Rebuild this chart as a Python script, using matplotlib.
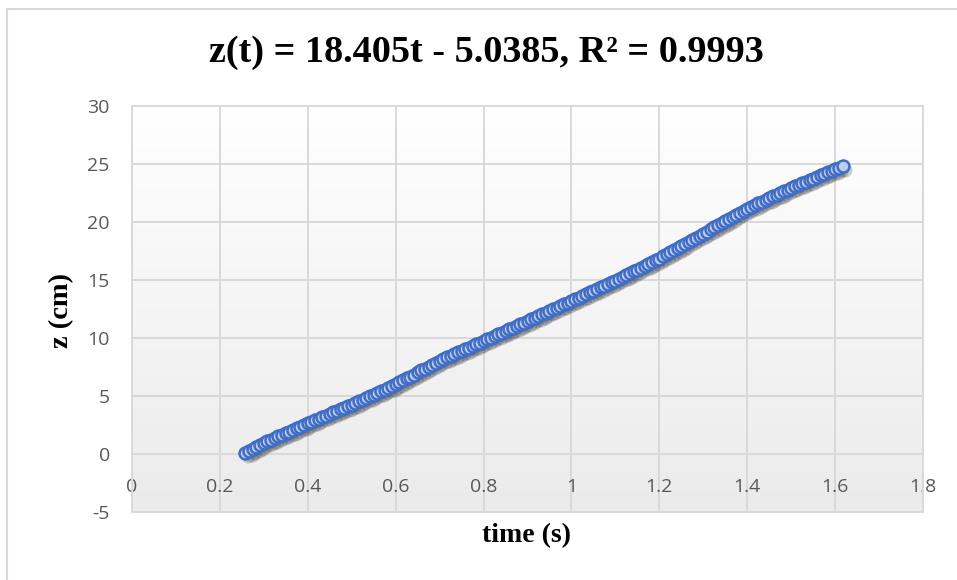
import matplotlib
matplotlib.use("Agg")
import matplotlib.pyplot as plt
import matplotlib.transforms as mtransforms
from matplotlib.colors import LinearSegmentedColormap
from matplotlib.patches import Rectangle
import numpy as np

# ---------------- data ----------------
time_s = [
    0.258, 0.267, 0.275, 0.283, 0.292, 0.300,
    0.308, 0.317, 0.325, 0.333, 0.342, 0.350, 0.358, 0.367, 0.375, 0.383, 0.392, 0.400,
    0.408, 0.417, 0.425, 0.433, 0.442, 0.450, 0.458, 0.467, 0.475, 0.483, 0.492, 0.500,
    0.508, 0.517, 0.525, 0.533, 0.542, 0.550, 0.558, 0.567, 0.575, 0.583, 0.592, 0.600,
    0.608, 0.617, 0.625, 0.633, 0.642, 0.650, 0.658, 0.667, 0.675, 0.683, 0.692, 0.700,
    0.708, 0.717, 0.725, 0.733, 0.742, 0.750, 0.758, 0.767, 0.775, 0.783, 0.792, 0.800,
    0.808, 0.817, 0.825, 0.833, 0.842, 0.850, 0.858, 0.867, 0.875, 0.883, 0.892, 0.900,
    0.908, 0.917, 0.925, 0.933, 0.942, 0.950, 0.958, 0.967, 0.975, 0.983, 0.992, 1.000,
    1.008, 1.017, 1.025, 1.033, 1.042, 1.050, 1.058, 1.067, 1.075, 1.083, 1.092, 1.100,
    1.108, 1.117, 1.125, 1.133, 1.142, 1.150, 1.158, 1.167, 1.175, 1.183, 1.192, 1.200,
    1.208, 1.217, 1.225, 1.233, 1.242, 1.250, 1.258, 1.267, 1.275, 1.283, 1.292, 1.300,
    1.308, 1.317, 1.325, 1.333, 1.342, 1.350, 1.358, 1.367, 1.375, 1.383, 1.392, 1.400,
    1.408, 1.417, 1.425, 1.433, 1.442, 1.450, 1.458, 1.467, 1.475, 1.483, 1.492, 1.500,
    1.508, 1.517, 1.525, 1.533, 1.542, 1.550, 1.558, 1.567, 1.575, 1.583, 1.592, 1.600,
    1.608, 1.617,
]
z_cm = [
    0.10, 0.22, 0.40, 0.58, 0.76, 0.95,
    1.08, 1.24, 1.36, 1.52, 1.64, 1.78, 1.93, 2.06, 2.20, 2.36, 2.50, 2.65,
    2.78, 2.92, 3.04, 3.19, 3.31, 3.45, 3.58, 3.71, 3.85, 3.98, 4.12, 4.25,
    4.39, 4.54, 4.68, 4.84, 4.97, 5.12, 5.27, 5.41, 5.56, 5.71, 5.85, 6.00,
    6.17, 6.34, 6.51, 6.68, 6.85, 7.03, 7.20, 7.37, 7.54, 7.71, 7.88, 8.05,
    8.19, 8.33, 8.47, 8.62, 8.76, 8.90, 9.04, 9.18, 9.33, 9.47, 9.61, 9.75,
    9.89, 10.03, 10.18, 10.32, 10.46, 10.60, 10.74, 10.88, 11.03, 11.17, 11.31, 11.45,
    11.60, 11.74, 11.89, 12.03, 12.18, 12.33, 12.47, 12.62, 12.76, 12.91, 13.05, 13.20,
    13.35, 13.49, 13.64, 13.78, 13.93, 14.08, 14.22, 14.37, 14.51, 14.66, 14.80, 14.95,
    15.11, 15.27, 15.42, 15.58, 15.74, 15.90, 16.06, 16.22, 16.37, 16.53, 16.69, 16.85,
    17.03, 17.21, 17.39, 17.57, 17.75, 17.93, 18.10, 18.28, 18.46, 18.64, 18.82, 19.00,
    19.18, 19.36, 19.54, 19.72, 19.90, 20.08, 20.25, 20.43, 20.61, 20.79, 20.97, 21.15,
    21.30, 21.45, 21.60, 21.75, 21.90, 22.05, 22.20, 22.35, 22.50, 22.65, 22.80, 22.95,
    23.08, 23.22, 23.35, 23.48, 23.62, 23.75, 23.88, 24.02, 24.15, 24.28, 24.42, 24.55,
    24.67, 24.80,
]
x_ticks = [0, 0.2, 0.4, 0.6, 0.8, 1.0, 1.2, 1.4, 1.6, 1.8]
x_tick_labels = ["0", "0.2", "0.4", "0.6", "0.8", "1", "1.2", "1.4", "1.6", "1.8"]
y_ticks = [-5, 0, 5, 10, 15, 20, 25, 30]
y_tick_labels = ["-5", "0", "5", "10", "15", "20", "25", "30"]
title_text = "z(t) = 18.405t - 5.0385, R² = 0.9993"
x_label = "time (s)"
y_label = "z (cm)"

# ---------------- figure ----------------
W, H = 957, 580
fig = plt.figure(figsize=(W / 100, H / 100), dpi=100)
fig.patch.set_facecolor("white")

# chart-area border
fig.add_artist(Rectangle((7 / W, -0.05), 1.2, 1.05 - 9 / H, transform=fig.transFigure,
                         fill=False, edgecolor="#d9d9d9", lw=1.5))

left, right, top, bottom = 132, 923, 106, 512
ax = fig.add_axes([left / W, 1 - bottom / H, (right - left) / W, (bottom - top) / H])

grid_c = "#d9d9d9"
# gradient background
grad = np.linspace(0, 1, 256).reshape(-1, 1)
cmap = LinearSegmentedColormap.from_list("bg", ["#ebebeb", "#ffffff"])
ax.imshow(grad, extent=[0, 1, 0, 1], transform=ax.transAxes, cmap=cmap,
          aspect="auto", origin="lower", zorder=0)

ax.set_xlim(0, 1.8)
ax.set_ylim(-5, 30)
ax.set_xticks(x_ticks)
ax.set_xticklabels(x_tick_labels)
ax.set_yticks(y_ticks)
ax.set_yticklabels(y_tick_labels)
ax.grid(True, color=grid_c, lw=1.4, zorder=1)
ax.set_axisbelow(True)
for s in ax.spines.values():
    s.set_visible(False)
ax.spines["bottom"].set_position(("data", 0))
ax.add_patch(Rectangle((0, 0), 1, 1, transform=ax.transAxes, fill=False,
                       edgecolor=grid_c, lw=1.4, clip_on=False, zorder=1))

tick_family = ["Open Sans", "DejaVu Sans"]
ax.tick_params(axis="both", length=0, colors="#595959")
ax.tick_params(axis="x", pad=17)
ax.tick_params(axis="y", pad=16)
for lab in ax.get_xticklabels() + ax.get_yticklabels():
    lab.set_fontfamily(tick_family)
    lab.set_fontsize(14)
    lab.set_color("#595959")

# shadow
shadow_tr = mtransforms.offset_copy(ax.transData, fig=fig, x=2.5, y=-3.5, units="dots")
ax.plot(time_s, z_cm, ls="none", marker="o", ms=10.0, mfc="#222222", mec="#222222",
        mew=0, alpha=0.22, transform=shadow_tr, zorder=2)
# markers
ax.plot(time_s, z_cm, ls="none", marker="o", ms=8.6, mfc="#bccdef", mec="#3f6cc4",
        mew=1.8, zorder=3)

serif = ["Liberation Serif", "DejaVu Serif"]
fig.text(486 / W, 1 - 52 / H, title_text, ha="center", va="center",
         fontsize=27.5, fontweight="bold", family=serif, color="black")
fig.text(527 / W, 1 - 536 / H, x_label, ha="center", va="center",
         fontsize=20, fontweight="bold", family=serif, color="black")
fig.text(62 / W, 1 - 310 / H, y_label, ha="center", va="center", rotation=90,
         fontsize=20.5, fontweight="bold", family=serif, color="black")

fig.savefig("out.png", dpi=100)
